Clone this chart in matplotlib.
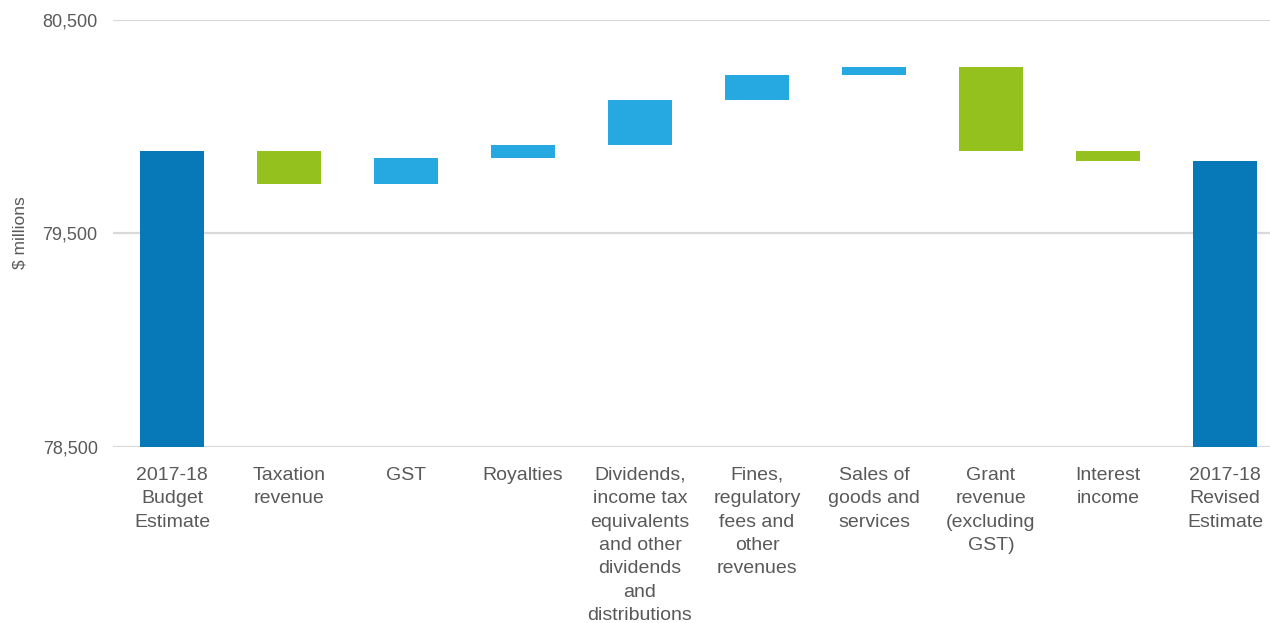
import numpy as np
import matplotlib.pyplot as plt
from matplotlib.ticker import FuncFormatter

# Revenue reconciliation, $ millions
categories = ['2017-18\nBudget\nEstimate', 'Taxation\nrevenue', 'GST', 'Royalties',
              'Dividends,\nincome tax\nequivalents\nand other\ndividends\nand\ndistributions',
              'Fines,\nregulatory\nfees and\nother\nrevenues', 'Sales of\ngoods and\nservices',
              'Grant\nrevenue\n(excluding\nGST)', 'Interest\nincome', '2017-18\nRevised\nEstimate']
budget_estimate = 79884
changes = [-154, 122, 62, 211, 117, 37, -393, -47]
revised_estimate = budget_estimate + sum(changes)

total_color = '#0779B9'
up_color = '#25A9E0'
down_color = '#95C11F'
text_color = '#595959'

plt.rcParams['font.family'] = ['Liberation Sans', 'DejaVu Sans']

fig = plt.figure(figsize=(12.7, 6.23), dpi=100)
ax = fig.add_axes([113 / 1270, 1 - 446.7 / 623, 1 - 113 / 1270, (446.7 - 19.5) / 623])

# running totals for the floating bars
running = budget_estimate + np.cumsum([0] + changes)
starts = running[:-1]
ends = running[1:]

width = 0.547
ax.bar(0, budget_estimate - 78500, bottom=78500, width=width, color=total_color, zorder=3)
for i, (s, e) in enumerate(zip(starts, ends)):
    color = up_color if e > s else down_color
    ax.bar(i + 1, abs(e - s), bottom=min(s, e), width=width, color=color, zorder=3)
ax.bar(9, revised_estimate - 78500, bottom=78500, width=width, color=total_color, zorder=3)

ax.set_ylim(78500, 80500)
ax.set_yticks([78500, 79500, 80500])
ax.yaxis.set_major_formatter(FuncFormatter(lambda v, p: f'{v:,.0f}'))
ax.set_xlim(-0.504, 9.385)
ax.set_xticks(range(len(categories)))
ax.set_xticklabels(categories, linespacing=1.49, fontsize=14)

ax.grid(axis='y', color='#D9D9D9', linewidth=1.6, zorder=0)
for sp in ax.spines.values():
    sp.set_visible(False)
ax.tick_params(axis='both', length=0, labelcolor=text_color)
ax.tick_params(axis='y', pad=11, labelsize=13)
ax.tick_params(axis='x', pad=14.5)
ax.set_ylabel('$ millions', fontsize=12.5, color=text_color, labelpad=11)

fig.savefig('out.png', dpi=100)
